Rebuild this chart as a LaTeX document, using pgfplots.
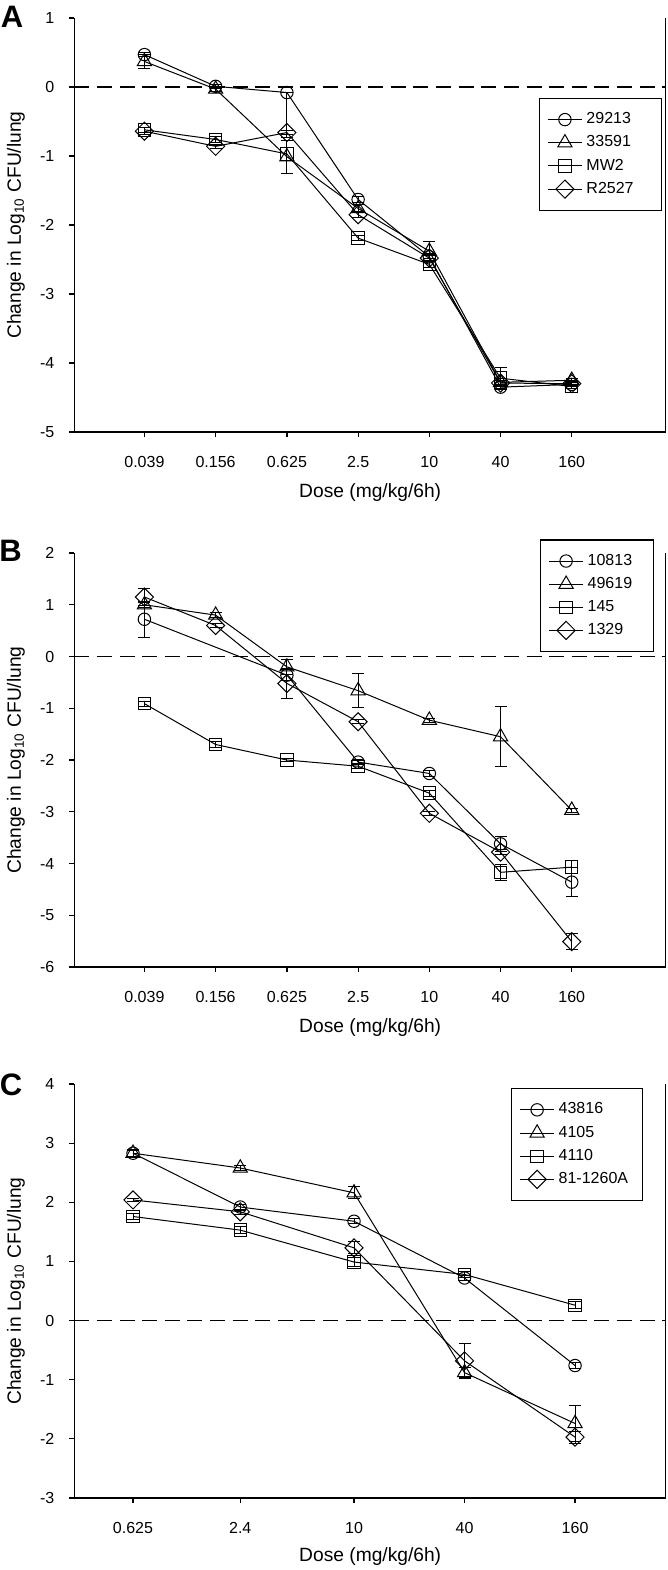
\documentclass[border=0pt]{standalone}
\usepackage{fontspec}
\setmainfont{Liberation Sans}
\usepackage{pgfplots}
\pgfplotsset{compat=1.18}

\pgfplotsset{
  myeb/.style={
    error bars/y dir=both, error bars/y explicit,
    error bars/error bar style={black, line width=0.5pt},
    error bars/error mark options={rotate=90, mark size=3pt, line width=0.5pt, black}},
  myC/.style={myeb, black, line width=0.5pt, mark=o, mark size=3.1pt, mark options={solid, line width=0.5pt}},
  myT/.style={myeb, black, line width=0.5pt, mark=triangle, mark size=4.1pt, mark options={solid, line width=0.5pt}},
  myS/.style={myeb, black, line width=0.5pt, mark=square, mark size=3.1pt, mark options={solid, line width=0.5pt}},
  myD/.style={myeb, black, line width=0.5pt, mark=square, mark size=3.2pt, mark options={solid, rotate=45, line width=0.5pt}},
  myZ/.style={forget plot, black, mark=none, line width=0.7pt, dash pattern=on 7.5pt off 3.8pt},
}

\begin{document}
\begin{tikzpicture}

% ---------------- Panel A ----------------
\begin{semilogxaxis}[
  scale only axis, width=295.7pt, height=207pt,
  xminorticks=false,
  axis x line*=bottom, axis y line*=left,
  axis line style={line width=0.65pt},
  tick align=outside, major tick length=2.6pt,
  tick style={black, line width=0.6pt},
  tick label style={font=\fontsize{8}{9}\selectfont},
  /pgf/number format/assume math mode=true,
  yticklabel style={anchor=east, inner sep=0pt, xshift=-7.3pt},
  xticklabel style={anchor=center, inner sep=0pt, yshift=-12.5pt},
  label style={font=\fontsize{9.6}{11}\selectfont},
  xlabel={Dose (mg/kg/6h)},
  ylabel={Change in Log\textsubscript{10} CFU/lung},
  xlabel style={at={(axis description cs:0.5,-0.147)}, anchor=center},
  ylabel style={at={(axis description cs:-0.099,0.5)}, anchor=center},
  legend cell align=left,
  legend style={draw=black, line width=0.6pt, font=\fontsize{8}{9}\selectfont,
    anchor=north west, inner xsep=4pt, inner ysep=5pt, row sep=0.5pt,
    at={(rel axis cs:0.785,0.807)}},
  at={(37.25pt,-216pt)}, anchor=south west,
  xmin=0.01, xmax=1000, ymin=-5, ymax=1,
  xtick={0.039,0.156,0.625,2.5,10,40,160},
  xticklabels={0.039,0.156,0.625,2.5,10,40,160},
  ytick={-5,-4,-3,-2,-1,0,1},
]
\addplot[myZ] coordinates {(0.01,0) (1000,0)};
\addplot[myC] coordinates {
  (0.039,0.47) +- (0,0.03)
  (0.156,0.01) +- (0,0.03)
  (0.625,-0.08) += (0,0) -= (0,0.65)
  (2.5,-1.63) +- (0,0.05)
  (10,-2.46) +- (0,0.05)
  (40,-4.35) +- (0,0.03)
  (160,-4.31) +- (0,0.03)
};
\addlegendentry{\makebox[31.5pt][l]{29213}}
\addplot[myT] coordinates {
  (0.039,0.37) +- (0,0.1)
  (0.156,-0.03) +- (0,0.04)
  (0.625,-1.01) +- (0,0.24)
  (2.5,-1.76) +- (0,0.06)
  (10,-2.38) +- (0,0.14)
  (40,-4.28) +- (0,0.05)
  (160,-4.25) +- (0,0.03)
};
\addlegendentry{33591}
\addplot[myS] coordinates {
  (0.039,-0.62) +- (0,0.04)
  (0.156,-0.76) +- (0,0.05)
  (0.625,-0.97) +- (0,0.1)
  (2.5,-2.19) +- (0,0.04)
  (10,-2.57) +- (0,0.05)
  (40,-4.22) +- (0,0.15)
  (160,-4.34) +- (0,0.03)
};
\addlegendentry{MW2}
\addplot[myD] coordinates {
  (0.039,-0.64) +- (0,0.05)
  (0.156,-0.86) +- (0,0.03)
  (0.625,-0.66) +- (0,0.03)
  (2.5,-1.85) +- (0,0.04)
  (10,-2.48) +- (0,0.05)
  (40,-4.29) +- (0,0.03)
  (160,-4.3) +- (0,0.03)
};
\addlegendentry{R2527}
\draw[line width=0.65pt] (rel axis cs:1,0) -- (rel axis cs:1,1);
\end{semilogxaxis}

% ---------------- Panel B ----------------
\begin{semilogxaxis}[
  scale only axis, width=295.7pt, height=207pt,
  xminorticks=false,
  axis x line*=bottom, axis y line*=left,
  axis line style={line width=0.65pt},
  tick align=outside, major tick length=2.6pt,
  tick style={black, line width=0.6pt},
  tick label style={font=\fontsize{8}{9}\selectfont},
  /pgf/number format/assume math mode=true,
  yticklabel style={anchor=east, inner sep=0pt, xshift=-7.3pt},
  xticklabel style={anchor=center, inner sep=0pt, yshift=-12.5pt},
  label style={font=\fontsize{9.6}{11}\selectfont},
  xlabel={Dose (mg/kg/6h)},
  ylabel={Change in Log\textsubscript{10} CFU/lung},
  xlabel style={at={(axis description cs:0.5,-0.147)}, anchor=center},
  ylabel style={at={(axis description cs:-0.099,0.5)}, anchor=center},
  legend cell align=left,
  legend style={draw=black, line width=0.6pt, font=\fontsize{8}{9}\selectfont,
    anchor=north west, inner xsep=4pt, inner ysep=5pt, row sep=0.5pt,
    at={(rel axis cs:0.787,1.033)}},
  at={(37.25pt,-483.5pt)}, anchor=south west,
  xmin=0.01, xmax=1000, ymin=-6, ymax=2,
  xtick={0.039,0.156,0.625,2.5,10,40,160},
  xticklabels={0.039,0.156,0.625,2.5,10,40,160},
  ytick={-6,-5,-4,-3,-2,-1,0,1,2},
]
\addplot[myZ] coordinates {(0.01,0) (1000,0)};
\addplot[myC] coordinates {
  (0.039,0.72) +- (0,0.35)
  (0.625,-0.36) +- (0,0.1)
  (2.5,-2.04) +- (0,0.05)
  (10,-2.26) +- (0,0.05)
  (40,-3.62) +- (0,0.14)
  (160,-4.36) +- (0,0.28)
};
\addlegendentry{\makebox[27pt][l]{10813}}
\addplot[myT] coordinates {
  (0.039,1.0) +- (0,0.05)
  (0.156,0.8) +- (0,0.05)
  (0.625,-0.2) +- (0,0.15)
  (2.5,-0.66) +- (0,0.33)
  (10,-1.23) +- (0,0.04)
  (40,-1.55) +- (0,0.58)
  (160,-2.97) +- (0,0.04)
};
\addlegendentry{49619}
\addplot[myS] coordinates {
  (0.039,-0.91) +- (0,0.05)
  (0.156,-1.7) +- (0,0.05)
  (0.625,-2.0) +- (0,0.03)
  (2.5,-2.12) +- (0,0.05)
  (10,-2.64) +- (0,0.06)
  (40,-4.17) +- (0,0.15)
  (160,-4.07) +- (0,0.13)
};
\addlegendentry{145}
\addplot[myD] coordinates {
  (0.039,1.15) +- (0,0.17)
  (0.156,0.6) +- (0,0.04)
  (0.625,-0.52) +- (0,0.29)
  (2.5,-1.26) +- (0,0.04)
  (10,-3.03) +- (0,0.04)
  (40,-3.78) +- (0,0.05)
  (160,-5.51) +- (0,0.15)
};
\addlegendentry{1329}
\draw[line width=0.65pt] (rel axis cs:1,0) -- (rel axis cs:1,1);
\end{semilogxaxis}

% ---------------- Panel C ----------------
\begin{semilogxaxis}[
  scale only axis, width=295.7pt, height=207pt,
  xminorticks=false,
  axis x line*=bottom, axis y line*=left,
  axis line style={line width=0.65pt},
  tick align=outside, major tick length=2.6pt,
  tick style={black, line width=0.6pt},
  tick label style={font=\fontsize{8}{9}\selectfont},
  /pgf/number format/assume math mode=true,
  yticklabel style={anchor=east, inner sep=0pt, xshift=-7.3pt},
  xticklabel style={anchor=center, inner sep=0pt, yshift=-12.5pt},
  label style={font=\fontsize{9.6}{11}\selectfont},
  xlabel={Dose (mg/kg/6h)},
  ylabel={Change in Log\textsubscript{10} CFU/lung},
  xlabel style={at={(axis description cs:0.5,-0.142)}, anchor=center},
  ylabel style={at={(axis description cs:-0.099,0.5)}, anchor=center},
  legend cell align=left,
  legend style={draw=black, line width=0.6pt, font=\fontsize{8}{9}\selectfont,
    anchor=north west, inner xsep=4pt, inner ysep=5pt, row sep=0.5pt,
    at={(rel axis cs:0.738,0.990)}},
  at={(37.25pt,-749pt)}, anchor=south west,
  xmin=0.3, xmax=500, ymin=-3, ymax=4,
  xtick={0.625,2.4,10,40,160},
  xticklabels={0.625,2.4,10,40,160},
  ytick={-3,-2,-1,0,1,2,3,4},
]
\addplot[myZ] coordinates {(0.3,0) (500,0)};
\addplot[myC] coordinates {
  (0.625,2.83) +- (0,0.05)
  (2.4,1.92) +- (0,0.05)
  (10,1.68) +- (0,0.04)
  (40,0.72) +- (0,0.05)
  (160,-0.76) +- (0,0.05)
};
\addlegendentry{\makebox[36pt][l]{43816}}
\addplot[myT] coordinates {
  (0.625,2.83) +- (0,0.06)
  (2.4,2.58) +- (0,0.04)
  (10,2.16) +- (0,0.1)
  (40,-0.88) +- (0,0.08)
  (160,-1.74) +- (0,0.3)
};
\addlegendentry{4105}
\addplot[myS] coordinates {
  (0.625,1.76) +- (0,0.05)
  (2.4,1.53) +- (0,0.06)
  (10,0.99) +- (0,0.08)
  (40,0.78) +- (0,0.05)
  (160,0.26) +- (0,0.06)
};
\addlegendentry{4110}
\addplot[myD] coordinates {
  (0.625,2.04) +- (0,0.03)
  (2.4,1.84) +- (0,0.04)
  (10,1.23) +- (0,0.1)
  (40,-0.68) +- (0,0.3)
  (160,-1.97) +- (0,0.1)
};
\addlegendentry{81-1260A}
\draw[line width=0.65pt] (rel axis cs:1,0) -- (rel axis cs:1,1);
\end{semilogxaxis}

\node[font=\bfseries\fontsize{15.5}{15.5}\selectfont, inner sep=0pt] at (6pt,-8.25pt) {A};
\node[font=\bfseries\fontsize{15.5}{15.5}\selectfont, inner sep=0pt] at (5.25pt,-275.5pt) {B};
\node[font=\bfseries\fontsize{15.5}{15.5}\selectfont, inner sep=0pt] at (5.5pt,-542.5pt) {C};

\pgfresetboundingbox
\useasboundingbox (0,0) rectangle (334pt,-785pt);
\end{tikzpicture}
\end{document}
